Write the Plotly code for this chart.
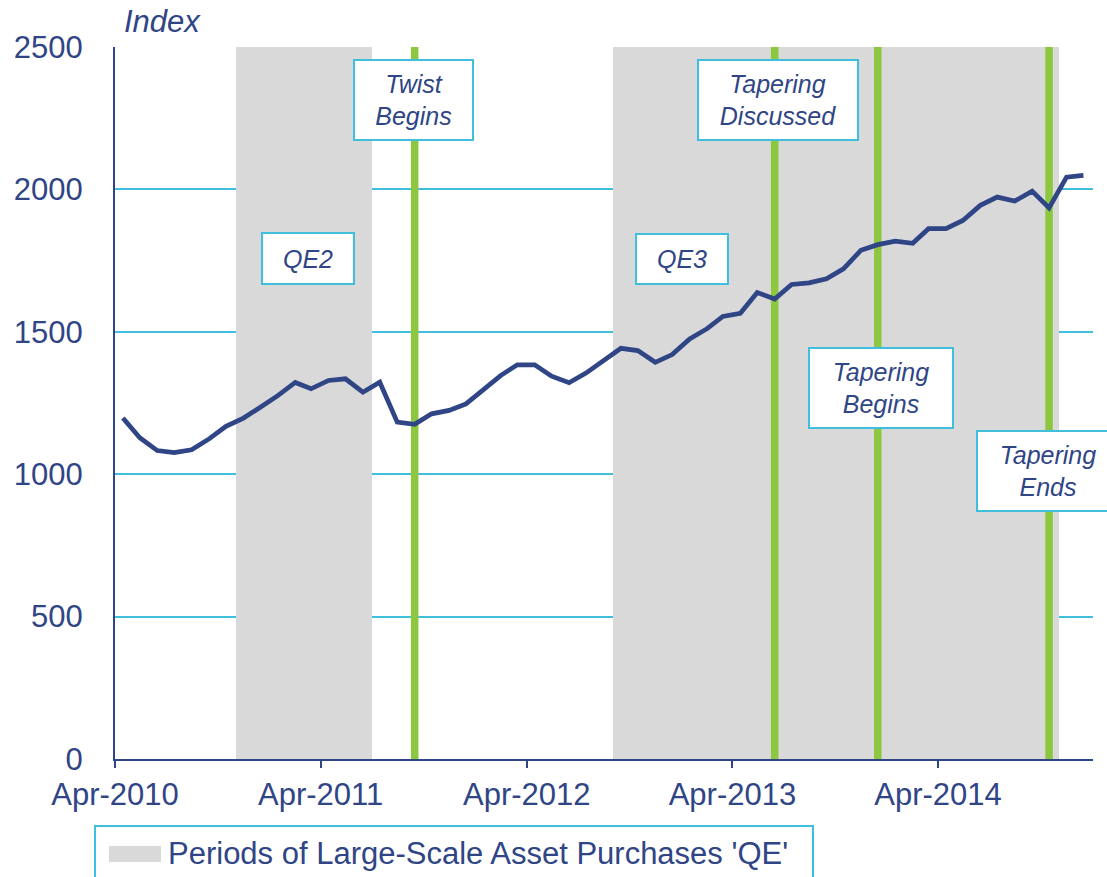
import pandas as pd
import plotly.graph_objects as go

# ---------------- data ----------------
index_values = [1197, 1128, 1083, 1076, 1086, 1124, 1168, 1197, 1235, 1276,
                1322, 1300, 1329, 1335, 1288, 1323, 1183, 1175, 1212, 1224,
                1247, 1297, 1347, 1384, 1384, 1344, 1321, 1355, 1399, 1442,
                1434, 1393, 1420, 1475, 1511, 1554, 1565, 1638, 1615, 1666,
                1672, 1686, 1721, 1786, 1806, 1818, 1811, 1862, 1862, 1891,
                1944, 1973, 1959, 1994, 1935, 2043, 2049]
months = [d + pd.Timedelta(days=14) for d in
          pd.date_range("2010-04-01", periods=len(index_values), freq="MS")]

qe_names = ["QE2", "QE3"]
qe_start = ["2010-11-01", "2012-09-01"]
qe_end = ["2011-07-01", "2014-11-01"]

event_names = ["Twist<br>Begins", "Tapering<br>Discussed", "Tapering<br>Begins", "Tapering<br>Ends"]
event_dates = ["2011-09-15", "2013-06-15", "2013-12-15", "2014-10-15"]

tick_vals = ["2010-04-01", "2011-04-01", "2012-04-01", "2013-04-01", "2014-04-01"]
tick_text = ["Apr-2010", "Apr-2011", "Apr-2012", "Apr-2013", "Apr-2014"]
y_ticks = [0, 500, 1000, 1500, 2000, 2500]
legend_label = "Periods of Large-Scale Asset Purchases 'QE'"

# ---------------- style ----------------
NAVY = "#2F4585"
CYAN = "#3FBFDD"
GREEN = "#8DC63F"
GREY = "#D9D9D9"
FONT = "Arial, Liberation Sans, sans-serif"

W, H = 1107, 877
L, R, T, B = 115, 14, 47, 118
PW, PH = W - L - R, H - T - B


def px_x(p):
    return (p - L) / PW


def px_y(p):
    return (H - B - p) / PH


fig = go.Figure()

# QE shaded periods as bars
for s, e in zip(qe_start, qe_end):
    s_ts, e_ts = pd.Timestamp(s), pd.Timestamp(e)
    mid = s_ts + (e_ts - s_ts) / 2
    width_ms = (e_ts - s_ts).total_seconds() * 1000
    fig.add_trace(go.Bar(x=[mid], y=[2500], width=[width_ms], base=[0],
                         marker=dict(color=GREY, line=dict(width=0)),
                         showlegend=False, hoverinfo="skip"))

# event lines
for d in event_dates:
    fig.add_trace(go.Scatter(x=[d, d], y=[0, 2500], mode="lines",
                             line=dict(color=GREEN, width=7.5),
                             showlegend=False, hoverinfo="skip"))

# index line
fig.add_trace(go.Scatter(x=months, y=index_values, mode="lines",
                         line=dict(color=NAVY, width=4.7),
                         showlegend=False, name="Index"))

annotations = []
# Index label
annotations.append(dict(text="<i>Index</i>", xref="paper", yref="paper",
                        x=px_x(122), y=px_y(21), xanchor="left", yanchor="middle",
                        showarrow=False, font=dict(size=31, color=NAVY, family=FONT)))


def box(text, cx, cy, w, h):
    annotations.append(dict(text="<i>" + text + "</i>", xref="paper", yref="paper",
                            x=px_x(cx), y=px_y(cy), xanchor="center", yanchor="middle",
                            showarrow=False, width=w - 4, height=h - 4,
                            bgcolor="white", bordercolor=CYAN, borderwidth=2, borderpad=0,
                            font=dict(size=25, color=NAVY, family=FONT)))


box(qe_names[0], 307.5, 258.7, 94, 53)
box(qe_names[1], 682, 258.5, 94, 52)
box(event_names[0], 413.7, 100.2, 121, 82)
box(event_names[1], 777.5, 100.2, 162, 82)
box(event_names[2], 881.2, 387.5, 146, 82)
box(event_names[3], 1047.5, 471.3, 144, 82)

# legend (manual)
shapes = [
    dict(type="rect", xref="paper", yref="paper", x0=px_x(95), x1=px_x(813),
         y0=px_y(884), y1=px_y(826), line=dict(color=CYAN, width=2), fillcolor="white"),
    dict(type="rect", xref="paper", yref="paper", x0=px_x(109), x1=px_x(161),
         y0=px_y(862), y1=px_y(846), line=dict(width=0), fillcolor=GREY),
]
annotations.append(dict(text=legend_label, xref="paper", yref="paper",
                        x=px_x(166), y=px_y(853), xanchor="left", yanchor="middle",
                        showarrow=False, font=dict(size=31, color=NAVY, family=FONT)))

fig.update_layout(
    width=W, height=H,
    margin=dict(l=L, r=R, t=T, b=B, autoexpand=False),
    paper_bgcolor="white", plot_bgcolor="white",
    barmode="overlay", bargap=0,
    showlegend=False,
    font=dict(family=FONT, color=NAVY, size=31),
    annotations=annotations, shapes=shapes,
    xaxis=dict(type="date", range=["2010-04-01", "2015-01-01"],
               tickvals=tick_vals, ticktext=tick_text,
               showgrid=False, showline=True, linecolor=NAVY, linewidth=2,
               ticks="outside", ticklen=7, tickwidth=2, tickcolor=NAVY,
               tickfont=dict(size=31, color=NAVY, family=FONT),
               zeroline=False),
    yaxis=dict(range=[0, 2500], tickvals=y_ticks,
               showgrid=True, gridcolor=CYAN, gridwidth=1.5,
               showline=True, linecolor=NAVY, linewidth=2,
               ticks="outside", ticklen=24, tickcolor="rgba(0,0,0,0)",
               tickfont=dict(size=31, color=NAVY, family=FONT),
               zeroline=False),
)

fig.write_html("out.html",
               config={"displayModeBar": False},
               post_script="document.body.style.margin='0';document.body.style.overflow='hidden';")
